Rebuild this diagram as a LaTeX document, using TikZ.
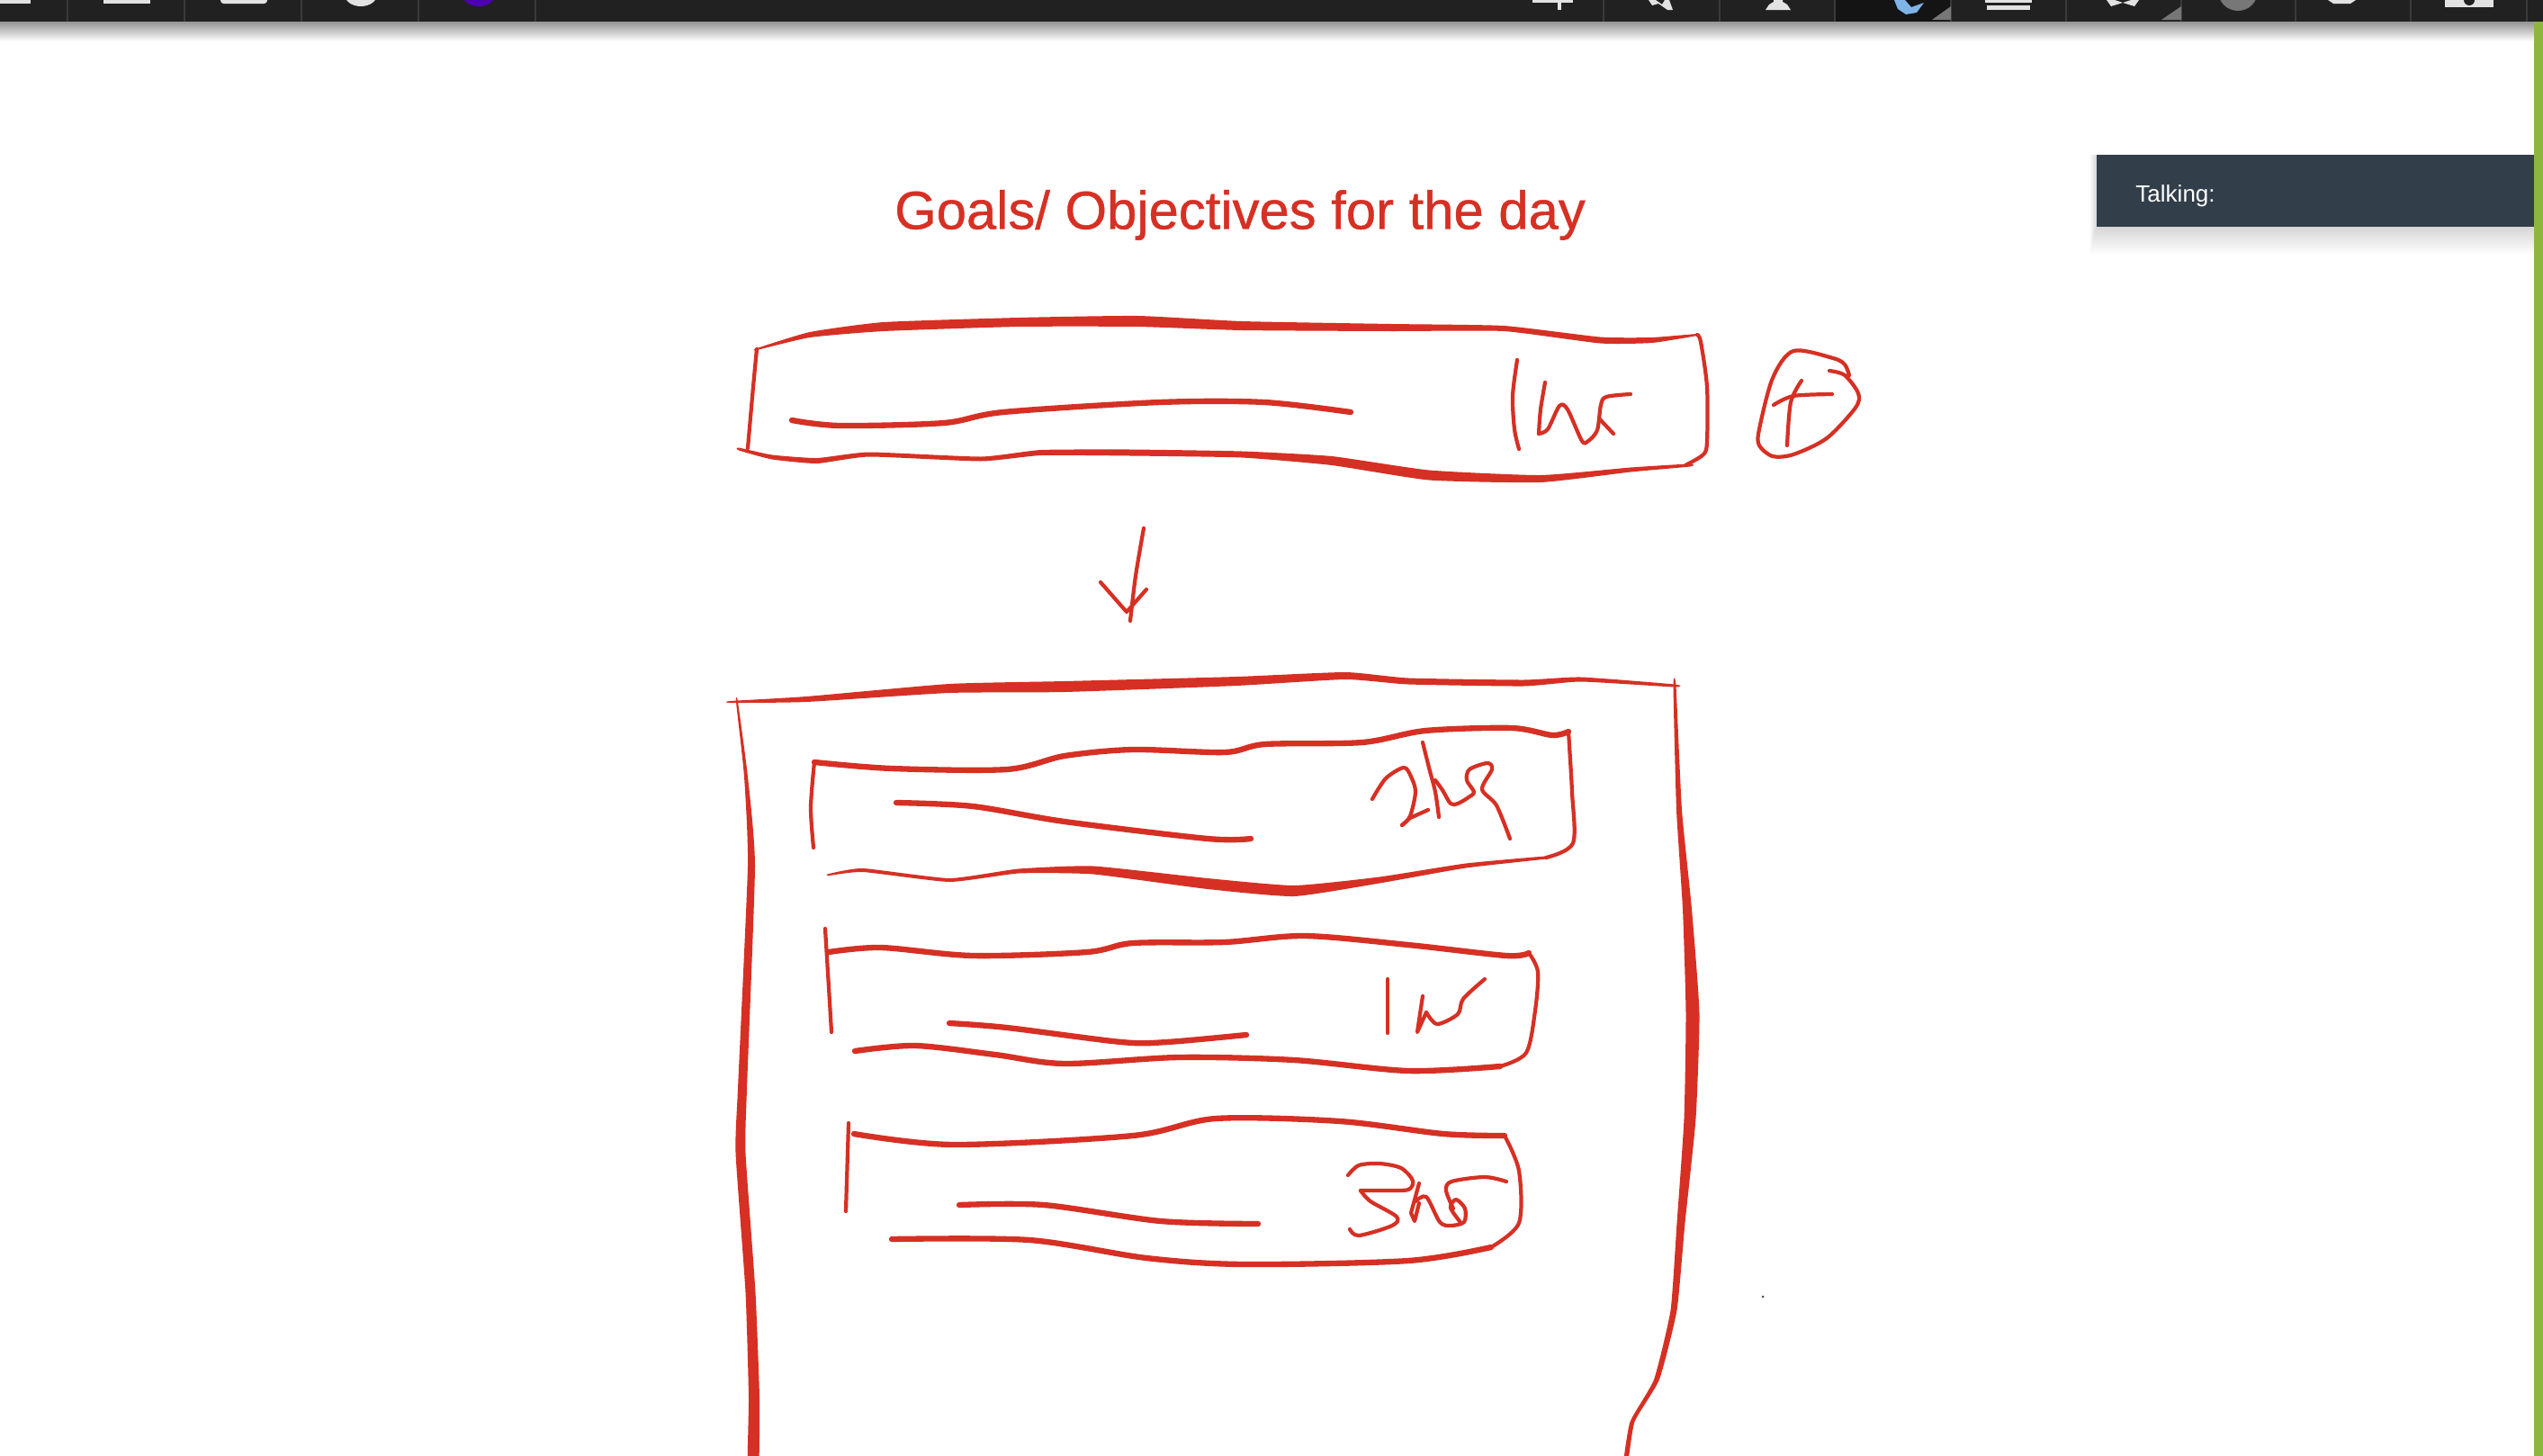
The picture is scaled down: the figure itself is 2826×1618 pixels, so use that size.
\documentclass[tikz,border=0pt]{standalone}
\usepackage{fontspec}
\setmainfont{Liberation Sans}
\newfontfamily\titlefont[FakeBold=0.7]{Liberation Sans}
\definecolor{inkred}{HTML}{D63024}
\definecolor{barblack}{HTML}{212121}
\definecolor{barline}{HTML}{3A3A3A}
\definecolor{baractive}{HTML}{141414}
\definecolor{iconwhite}{HTML}{E2E2E2}
\definecolor{icongrey}{HTML}{777777}
\definecolor{penblue}{HTML}{7FB5E6}
\definecolor{panelslate}{HTML}{323E4A}
\definecolor{edgegreen}{HTML}{8DB63F}
\tikzset{
  inkthin/.style={inkred, line width=1.2pt, line cap=round, line join=round},
  inkmed/.style={inkred, line width=1.8pt, line cap=round, line join=round},
  inkswell/.style={fill=inkred},
  baricon/.style={fill=iconwhite}
}
\begin{document}
\begin{tikzpicture}[x=0.01cm, y=-0.01cm]
\clip (0,0) rectangle (2826,1618);
\fill[white] (0,0) rectangle (2826,1618);

% --- Top: toolbar ---
\shade[top color=black!42, bottom color=white] (0,24) rectangle (2826,46);
\fill[barblack] (0,0) rectangle (2826,24);
\fill[baractive] (2039,0) rectangle (2168,24);
\foreach \divx in {75,205,335,465,595,1782,1911,2039,2168,2296,2424,2551,2679,2808}
  \draw[barline, line width=0.3pt] (\divx,0) -- (\divx,24);

% Icons, cut off by the top edge
\fill[baricon] (0,0) rectangle (34,4);
\fill[baricon] (115,0) rectangle (167,4);
\fill[baricon, rounded corners=1pt] (245,-4) rectangle (297,4);
\fill[baricon] (401,-6) ellipse (18 and 13);
\fill[violet!60!blue] (532,-4) ellipse (17 and 11);
\fill[baricon] (1703,0) rectangle (1748,3);
\fill[baricon] (1731,0) rectangle (1735,11);
\fill[baricon] (1832,0) -- (1840,0) -- (1847,5) -- (1850,0) -- (1855,0) -- (1859,11) -- (1853,11) -- (1843,4) -- (1836,6) -- cycle;
\fill[baricon] (1962,11) -- (1990,11) -- (1986,5) -- (1981,2) -- (1981,0) -- (1971,0) -- (1971,2) -- (1966,5) -- cycle;
\fill[penblue] (2105,0) -- (2117,0) -- (2124,8) -- (2138,3) -- (2130,14) -- (2118,16) -- (2109,10) -- cycle;
\fill[icongrey] (2147,22) -- (2168,22) -- (2168,7) -- cycle;
\fill[baricon] (2206,0) rectangle (2258,3);
\fill[baricon] (2208,6) rectangle (2256,11);
\fill[baricon] (2341,0) -- (2350,0) -- (2359,3) -- (2368,0) -- (2377,0) -- (2372,7) -- (2359,3) -- (2346,7) -- cycle;
\fill[icongrey] (2402,22) -- (2424,22) -- (2424,7) -- cycle;
\fill[icongrey] (2487,-10) circle (22);
\fill[baricon] (2587,0) -- (2618,0) -- (2612,4) -- (2593,4) -- cycle;
\fill[baricon] (2717,0) rectangle (2771,8);
\fill[barblack] (2744,0) circle (6);

% --- Right: green edge and panel ---
\fill[edgegreen] (2816,24) rectangle (2826,1618);
\foreach \grow in {3,6,...,30}
  \fill[black, opacity=0.014] (2330-\grow/4,172) rectangle (2816,252+\grow);
\fill[panelslate] (2330,172) rectangle (2816,252);
\node[text=white, font=\fontsize{7.4pt}{8pt}\selectfont, anchor=west] (talking) at (2361,218) {Talking:};

% --- Title ---
\node[text=inkred, font=\titlefont\fontsize{17pt}{20pt}\selectfont] (title) at (1378,239) {Goals/ Objectives for the day};

% --- Upper box ---
\fill[inkswell] plot[smooth cycle, tension=0.3] coordinates {(841,387) (900,369) (982,358) (1132,353) (1264,351) (1380,357) (1546,360) (1671,362) (1778,374.5) (1836,375) (1886,371)
  (1886,373) (1836,381) (1778,381.5) (1671,368) (1546,368) (1380,367) (1264,363) (1132,363) (982,368) (900,375) (841,389)};
\draw[inkthin] plot[smooth] coordinates {(1886,372) (1890,380) (1897,430) (1897,490) (1893,505) (1873,517)};
\fill[inkswell] plot[smooth cycle, tension=0.3] coordinates {(1878,515.5) (1812,519.5) (1712,528) (1588,522.5) (1480,507) (1380,501.5) (1256,499.5) (1157,500) (1090,507.5) (966,502.5) (908,509) (858,505.5) (821,497.5)
  (821,500.5) (858,510.5) (908,515) (966,507.5) (1090,512.5) (1157,506) (1256,506.5) (1380,508.5) (1480,517) (1588,533.5) (1712,536) (1812,524.5) (1878,518.5)};
\draw[inkthin] plot[smooth] coordinates {(841,388) (837,430) (831,498)};
\draw[inkmed] plot[smooth] coordinates {(880,467) (933,473) (1049,470) (1115,458) (1289,447) (1405,447) (1501,458)};

% Handwritten 1hr
\draw[inkthin] plot[smooth] coordinates {(1686,400) (1681,440) (1683,477) (1688,499)};
\draw[inkthin] plot[smooth] coordinates {(1717,425) (1712,455) (1710,482)};
\draw[inkthin] plot[smooth] coordinates {(1710,482) (1720,477) (1733,451) (1742,455) (1758,490) (1765,490) (1775,478) (1779,450) (1785,441) (1812,438)};
\draw[inkthin] (1777,465) -- (1793,482);

% Circled plus
\draw[inkthin] plot[smooth] coordinates {(2033,412) (2050,417) (2065,437) (2062,453) (2030,487) (1993,505) (1970,507) (1955,495) (1955,477) (1970,420) (1993,390) (2037,398) (2050,405) (2055,417)};
\draw[inkthin] plot[smooth] coordinates {(2002,423) (1990,447) (1986,495)};
\draw[inkthin] plot[smooth] coordinates {(1971,450) (1993,440) (2036,438)};

% Arrow between the boxes
\draw[inkthin] plot[smooth] coordinates {(1271,587) (1262,640) (1256,690)};
\draw[inkthin] (1223,647) -- (1252,680) -- (1274,655);

% --- Lower box ---
\fill[inkswell] plot[smooth cycle, tension=0.3] coordinates {(812,779) (896,774) (1055,760) (1183,757) (1374,752) (1495,747) (1565,753.5) (1693,755.5) (1757,752.5) (1861,760.5)
  (1861,763.5) (1757,757.5) (1693,762.5) (1565,760.5) (1495,755) (1374,762) (1183,769) (1055,770) (896,780) (812,781)};
\fill[inkswell] plot[smooth cycle, tension=0.3] coordinates {(818,780) (827,863) (831,963) (820,1210) (817.5,1281) (828.5,1436) (832,1553) (831,1630)
  (843,1630) (844,1553) (839.5,1436) (828.5,1281) (830,1210) (839,963) (831,863) (820,780)};
\fill[inkswell] plot[smooth cycle, tension=0.3] coordinates {(1859.5,762) (1863,900) (1870,1010) (1873.5,1126) (1871.5,1243) (1863.5,1359) (1856.5,1456) (1838,1533) (1811.5,1580) (1803.5,1630)
  (1808.5,1630) (1816.5,1580) (1844,1533) (1863.5,1456) (1872.5,1359) (1884.5,1243) (1888.5,1126) (1880,1010) (1869,900) (1862.5,762)};

% First row, 2hrs
\draw[inkmed] plot[smooth] coordinates {(905,847) (991,854) (1119,855) (1183,840) (1259,833) (1361,836) (1406,827) (1514,825) (1584,812) (1680,809) (1725,817) (1743,813)};
\draw[inkthin] plot[smooth] coordinates {(905,847) (901,897) (904,942)};
\draw[inkthin] plot[smooth] coordinates {(1743,813) (1747,880) (1748,937) (1718,953)};
\fill[inkswell] plot[smooth cycle, tension=0.3] coordinates {(1718,951.5) (1629,959.5) (1533,974.5) (1438,984) (1342,976) (1215,962.5) (1132,965.5) (1055,976) (959,965) (921,971)
  (921,973) (959,969) (1055,980) (1132,970.5) (1215,971.5) (1342,988) (1438,996) (1533,981.5) (1629,964.5) (1718,954.5)};
\draw[inkmed] plot[smooth] coordinates {(996,892) (1081,896) (1183,913) (1342,932) (1390,932)};
\draw[inkthin] plot[smooth] coordinates {(1525,888) (1540,865) (1560,853) (1568,863) (1573,880) (1567,907) (1558,917)};
\draw[inkthin] (1558,917) -- (1567,909) -- (1587,900);
\draw[inkthin] plot[smooth] coordinates {(1581,825) (1588,853) (1595,880) (1599,908)};
\draw[inkthin] plot[smooth] coordinates {(1595,867) (1603,878) (1612,893) (1620,893) (1632,886) (1638,880) (1630,867) (1633,855) (1653,848) (1658,855) (1647,877) (1663,895) (1678,932)};

% Second row, 1hr
\draw[inkthin] plot[smooth] coordinates {(917,1032) (921,1097) (924,1147)};
\draw[inkmed] plot[smooth] coordinates {(921,1058) (979,1053) (1081,1062) (1208,1058) (1259,1048) (1361,1047) (1450,1040) (1565,1050) (1674,1062) (1699,1059)};
\draw[inkthin] plot[smooth] coordinates {(1699,1059) (1709,1080) (1706,1123) (1696,1170) (1667,1185)};
\draw[inkmed] plot[smooth] coordinates {(1667,1185) (1565,1190) (1438,1178) (1310,1175) (1183,1182) (1106,1172) (1017,1162) (950,1168)};
\draw[inkmed] plot[smooth] coordinates {(1055,1137) (1119,1142) (1246,1158) (1297,1158) (1385,1150)};
\draw[inkthin] (1542,1088) -- (1542,1148);
\draw[inkthin] (1581,1107) -- (1575,1147) -- (1585,1125);
\draw[inkthin] plot[smooth] coordinates {(1585,1125) (1597,1138) (1620,1127) (1626,1110) (1650,1088)};

% Third row, 3hrs
\draw[inkthin] (943,1248) -- (940,1346);
\draw[inkmed] plot[smooth] coordinates {(949,1260) (1060,1272) (1259,1262) (1351,1243) (1489,1246) (1604,1260) (1672,1262)};
\draw[inkthin] plot[smooth] coordinates {(1672,1262) (1688,1301) (1688,1359) (1657,1386)};
\draw[inkmed] plot[smooth] coordinates {(1657,1386) (1565,1401) (1382,1405) (1274,1398) (1144,1378) (991,1377)};
\draw[inkmed] plot[smooth] coordinates {(1066,1339) (1160,1339) (1290,1357) (1398,1360)};
\draw[inkthin] plot[smooth] coordinates {(1498,1306) (1510,1295) (1533,1293) (1557,1298) (1570,1312) (1565,1322) (1540,1323) (1512,1323)};
\draw[inkthin] plot[smooth] coordinates {(1512,1323) (1523,1335) (1552,1352) (1547,1362) (1510,1373) (1500,1366)};
\draw[inkthin] (1577,1315) -- (1568,1348) -- (1572,1357) -- (1577,1337);
\draw[inkthin] plot[smooth] coordinates {(1573,1335) (1585,1330) (1600,1358) (1612,1362) (1627,1358) (1628,1343) (1618,1333) (1612,1342) (1622,1357)};
\draw[inkthin] plot[smooth] coordinates {(1615,1343) (1607,1323) (1613,1313) (1650,1308) (1674,1313)};

% Stray dot
\fill[black!70] (1959,1441) circle (1.5);

\end{tikzpicture}
\end{document}
